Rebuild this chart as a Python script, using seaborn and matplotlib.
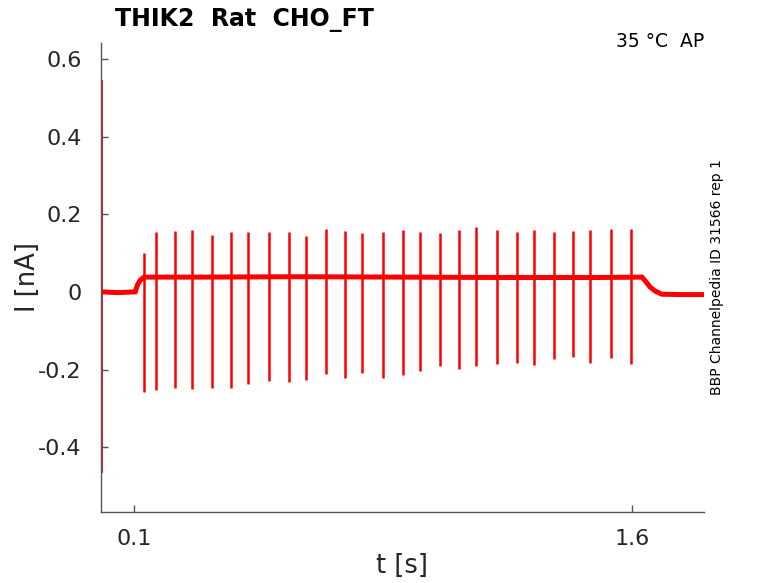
import pandas as pd
import matplotlib
matplotlib.use("Agg")
import matplotlib.pyplot as plt
import seaborn as sns

# baseline of the current trace (holding + step), keypoints
base_t = [0.003, 0.05, 0.103, 0.110, 0.118, 0.130, 0.30, 0.60, 0.90, 1.20, 1.50,
          1.630, 1.642, 1.655, 1.670, 1.690, 1.75, 1.818]
base_i = [0.000, -0.002, 0.000, 0.018, 0.030, 0.038, 0.038, 0.039, 0.038, 0.037, 0.037,
          0.038, 0.026, 0.012, 0.002, -0.006, -0.007, -0.007]

# action-current spikes: time, peak and trough
spike_t = [0.130, 0.166, 0.223, 0.275, 0.335, 0.392, 0.443, 0.507, 0.567, 0.618,
           0.678, 0.736, 0.787, 0.850, 0.910, 0.961, 1.022, 1.079, 1.130, 1.193,
           1.254, 1.305, 1.365, 1.422, 1.473, 1.536, 1.597]
spike_peak = [0.100, 0.153, 0.157, 0.160, 0.147, 0.154, 0.154, 0.155, 0.155, 0.143,
              0.161, 0.158, 0.151, 0.155, 0.160, 0.155, 0.151, 0.160, 0.167, 0.160,
              0.155, 0.160, 0.154, 0.156, 0.160, 0.161, 0.163]
spike_trough = [-0.257, -0.254, -0.248, -0.251, -0.248, -0.247, -0.238, -0.229, -0.232, -0.226,
                -0.211, -0.222, -0.208, -0.221, -0.214, -0.204, -0.191, -0.199, -0.190, -0.186,
                -0.184, -0.188, -0.172, -0.169, -0.184, -0.171, -0.187]

# capacitive transient at the start of the sweep
trans_t = 0.003
trans_lo, trans_hi = -0.467, 0.546

y_ticks = [-0.4, -0.2, 0, 0.2, 0.4, 0.6]
y_labels = ["-0.4", "-0.2", "0", "0.2", "0.4", "0.6"]
x_ticks = [0.1, 1.6]
x_labels = ["0.1", "1.6"]

sns.set_style("ticks")
plt.rcParams["font.family"] = ["DejaVu Sans"]

fig = plt.figure(figsize=(7.78, 5.83), dpi=100)
ax = fig.add_axes([101 / 778, 1 - 512 / 583, 603 / 778, 469 / 583])

df = pd.DataFrame({"t": base_t, "I": base_i})
sns.lineplot(data=df, x="t", y="I", ax=ax, color="#ff0000", lw=3.6,
             sort=False, estimator=None, solid_capstyle="butt", solid_joinstyle="miter")
ax.vlines(spike_t, spike_trough, spike_peak, color="#ff0000", lw=1.8)
ax.vlines([trans_t], [trans_lo], [trans_hi], color="#ff0000", lw=1.3)

ax.set_xlim(0, 1.817)
ax.set_ylim(-0.567, 0.641)
ax.set_xticks(x_ticks)
ax.set_xticklabels(x_labels)
ax.set_yticks(y_ticks)
ax.set_yticklabels(y_labels)
ax.tick_params(direction="in", length=5, width=1, colors="#555555",
               labelcolor="#262626", labelsize=16, pad=12)
ax.tick_params(axis="y", pad=14)
for side in ["top", "right"]:
    ax.spines[side].set_visible(False)
for side in ["left", "bottom"]:
    ax.spines[side].set_color("#555555")
    ax.spines[side].set_linewidth(1.0)

ax.set_xlabel("")
ax.set_ylabel("")
fig.text(402 / 778, 1 - 566 / 583, "t [s]", ha="center", va="center",
         fontsize=18.5, color="#262626")
fig.text(28 / 778, 1 - 277 / 583, "I [nA]", ha="center", va="center",
         rotation=90, fontsize=18.5, color="#262626")

fig.text(115 / 778, 1 - 26 / 583, "THIK2  Rat  CHO_FT", ha="left", va="baseline",
         fontsize=17, fontweight="bold", color="black")
fig.text(704 / 778, 1 - 47 / 583, "35 °C  AP", ha="right", va="baseline",
         fontsize=13.5, color="black")
fig.text(717 / 778, 1 - 277 / 583, "BBP Channelpedia ID 31566 rep 1", ha="center",
         va="center", rotation=90, fontsize=10, color="black")

fig.savefig("out.png", dpi=100)
plt.close(fig)
